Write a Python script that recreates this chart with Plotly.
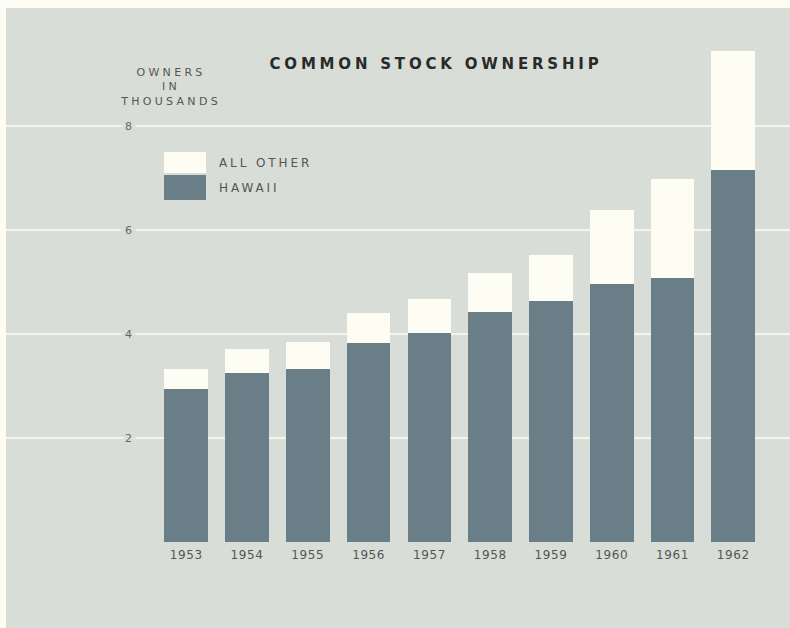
import plotly.graph_objects as go

# Common stock owners, in thousands
years = ["1953", "1954", "1955", "1956", "1957", "1958", "1959", "1960", "1961", "1962"]
hawaii = [2.95, 3.25, 3.33, 3.82, 4.01, 4.42, 4.64, 4.97, 5.08, 7.16]
all_other = [0.37, 0.46, 0.52, 0.59, 0.66, 0.75, 0.88, 1.41, 1.90, 2.29]
y_ticks = [2, 4, 6, 8]

W, H = 790, 628
L, R, T, B = 6, 0, 8, 86
PW, PH = W - L - R, H - T - B

BG = "#d9ddd7"
CREAM = "#fdfdf4"
SLATE = "#6a7e88"
TEXT = "#555555"


def px_x(px):
    return (px - L) / PW


def px_y(py):
    return (H - B - py) / PH


fig = go.Figure()
fig.add_trace(go.Bar(x=years, y=hawaii, name="HAWAII", marker=dict(color=SLATE, line=dict(width=0)), width=0.72))
fig.add_trace(go.Bar(x=years, y=all_other, name="ALL OTHER", marker=dict(color=CREAM, line=dict(width=0)), width=0.72))

halo = ", ".join([f"0 0 2px {BG}"] * 6 + [f"{d}px 0 0 {BG}" for d in (-5, -3, 3, 5)])

fig.update_layout(
    width=W, height=H,
    margin=dict(l=L, r=R, t=T, b=B),
    paper_bgcolor=CREAM,
    plot_bgcolor=BG,
    barmode="stack",
    showlegend=False,
    font=dict(family="DejaVu Sans", color=TEXT),
    title=dict(
        text="COMMON STOCK OWNERSHIP",
        xref="paper", x=px_x(436), xanchor="center",
        yref="container", y=1 - 64 / H, yanchor="middle",
        font=dict(family="DejaVu Sans", size=15, color="#2a2a2a", weight="bold"),
    ),
    xaxis=dict(
        type="category",
        range=[-(186.3 - L) / 60.8, 9 + (W - 733.3) / 60.8],
        showgrid=False, zeroline=False, showline=False, ticks="",
        ticklabelstandoff=4,
        tickfont=dict(size=12, color=TEXT),
        fixedrange=True,
    ),
    yaxis=dict(
        range=[0, PH / 52.0],
        tickvals=y_ticks,
        ticktext=[str(v) for v in y_ticks],
        showgrid=True, gridcolor="#f3f4ee", gridwidth=2,
        zeroline=False, showline=False, ticks="",
        ticklabelposition="inside",
        ticklabelstandoff=116,
        tickfont=dict(size=11, color="#666666", shadow=halo),
        fixedrange=True,
    ),
)

# gray field continues beneath the year labels
fig.add_shape(type="rect", xref="paper", yref="paper", x0=0, x1=1, y0=-B / PH, y1=0,
              fillcolor=BG, line=dict(width=0), layer="below")

# key swatches
fig.add_shape(type="rect", xref="paper", yref="paper",
              x0=px_x(164), x1=px_x(206), y0=px_y(173), y1=px_y(152),
              fillcolor=CREAM, line=dict(width=0))
fig.add_shape(type="rect", xref="paper", yref="paper",
              x0=px_x(164), x1=px_x(206), y0=px_y(200), y1=px_y(175),
              fillcolor=SLATE, line=dict(width=0))

fig.add_annotation(text="ALL OTHER", xref="paper", yref="paper", x=px_x(217), y=px_y(163),
                   xanchor="left", yanchor="middle", showarrow=False, align="left",
                   font=dict(size=12, color=TEXT))
fig.add_annotation(text="HAWAII", xref="paper", yref="paper", x=px_x(217), y=px_y(188),
                   xanchor="left", yanchor="middle", showarrow=False, align="left",
                   font=dict(size=12, color=TEXT))

# unit caption over the value scale
fig.add_annotation(text="OWNERS<br>IN<br>THOUSANDS", xref="paper", yref="paper",
                   x=px_x(170), y=px_y(87), xanchor="center", yanchor="middle",
                   showarrow=False, align="center",
                   font=dict(size=11, color=TEXT))

# extended lettering for the caption texts
post = """
var gd = document.getElementById('{plot_id}');
gd.querySelectorAll('.gtitle').forEach(function(e){ e.style.letterSpacing = '3.8px'; });
gd.querySelectorAll('.annotation-text').forEach(function(e){
  e.style.letterSpacing = e.textContent.indexOf('OWNERS') === 0 ? '3.3px' : '2.9px';
});
gd.querySelectorAll('.xtick text').forEach(function(e){ e.style.letterSpacing = '0.6px'; });
"""

fig.write_html("out.html", post_script=post)
